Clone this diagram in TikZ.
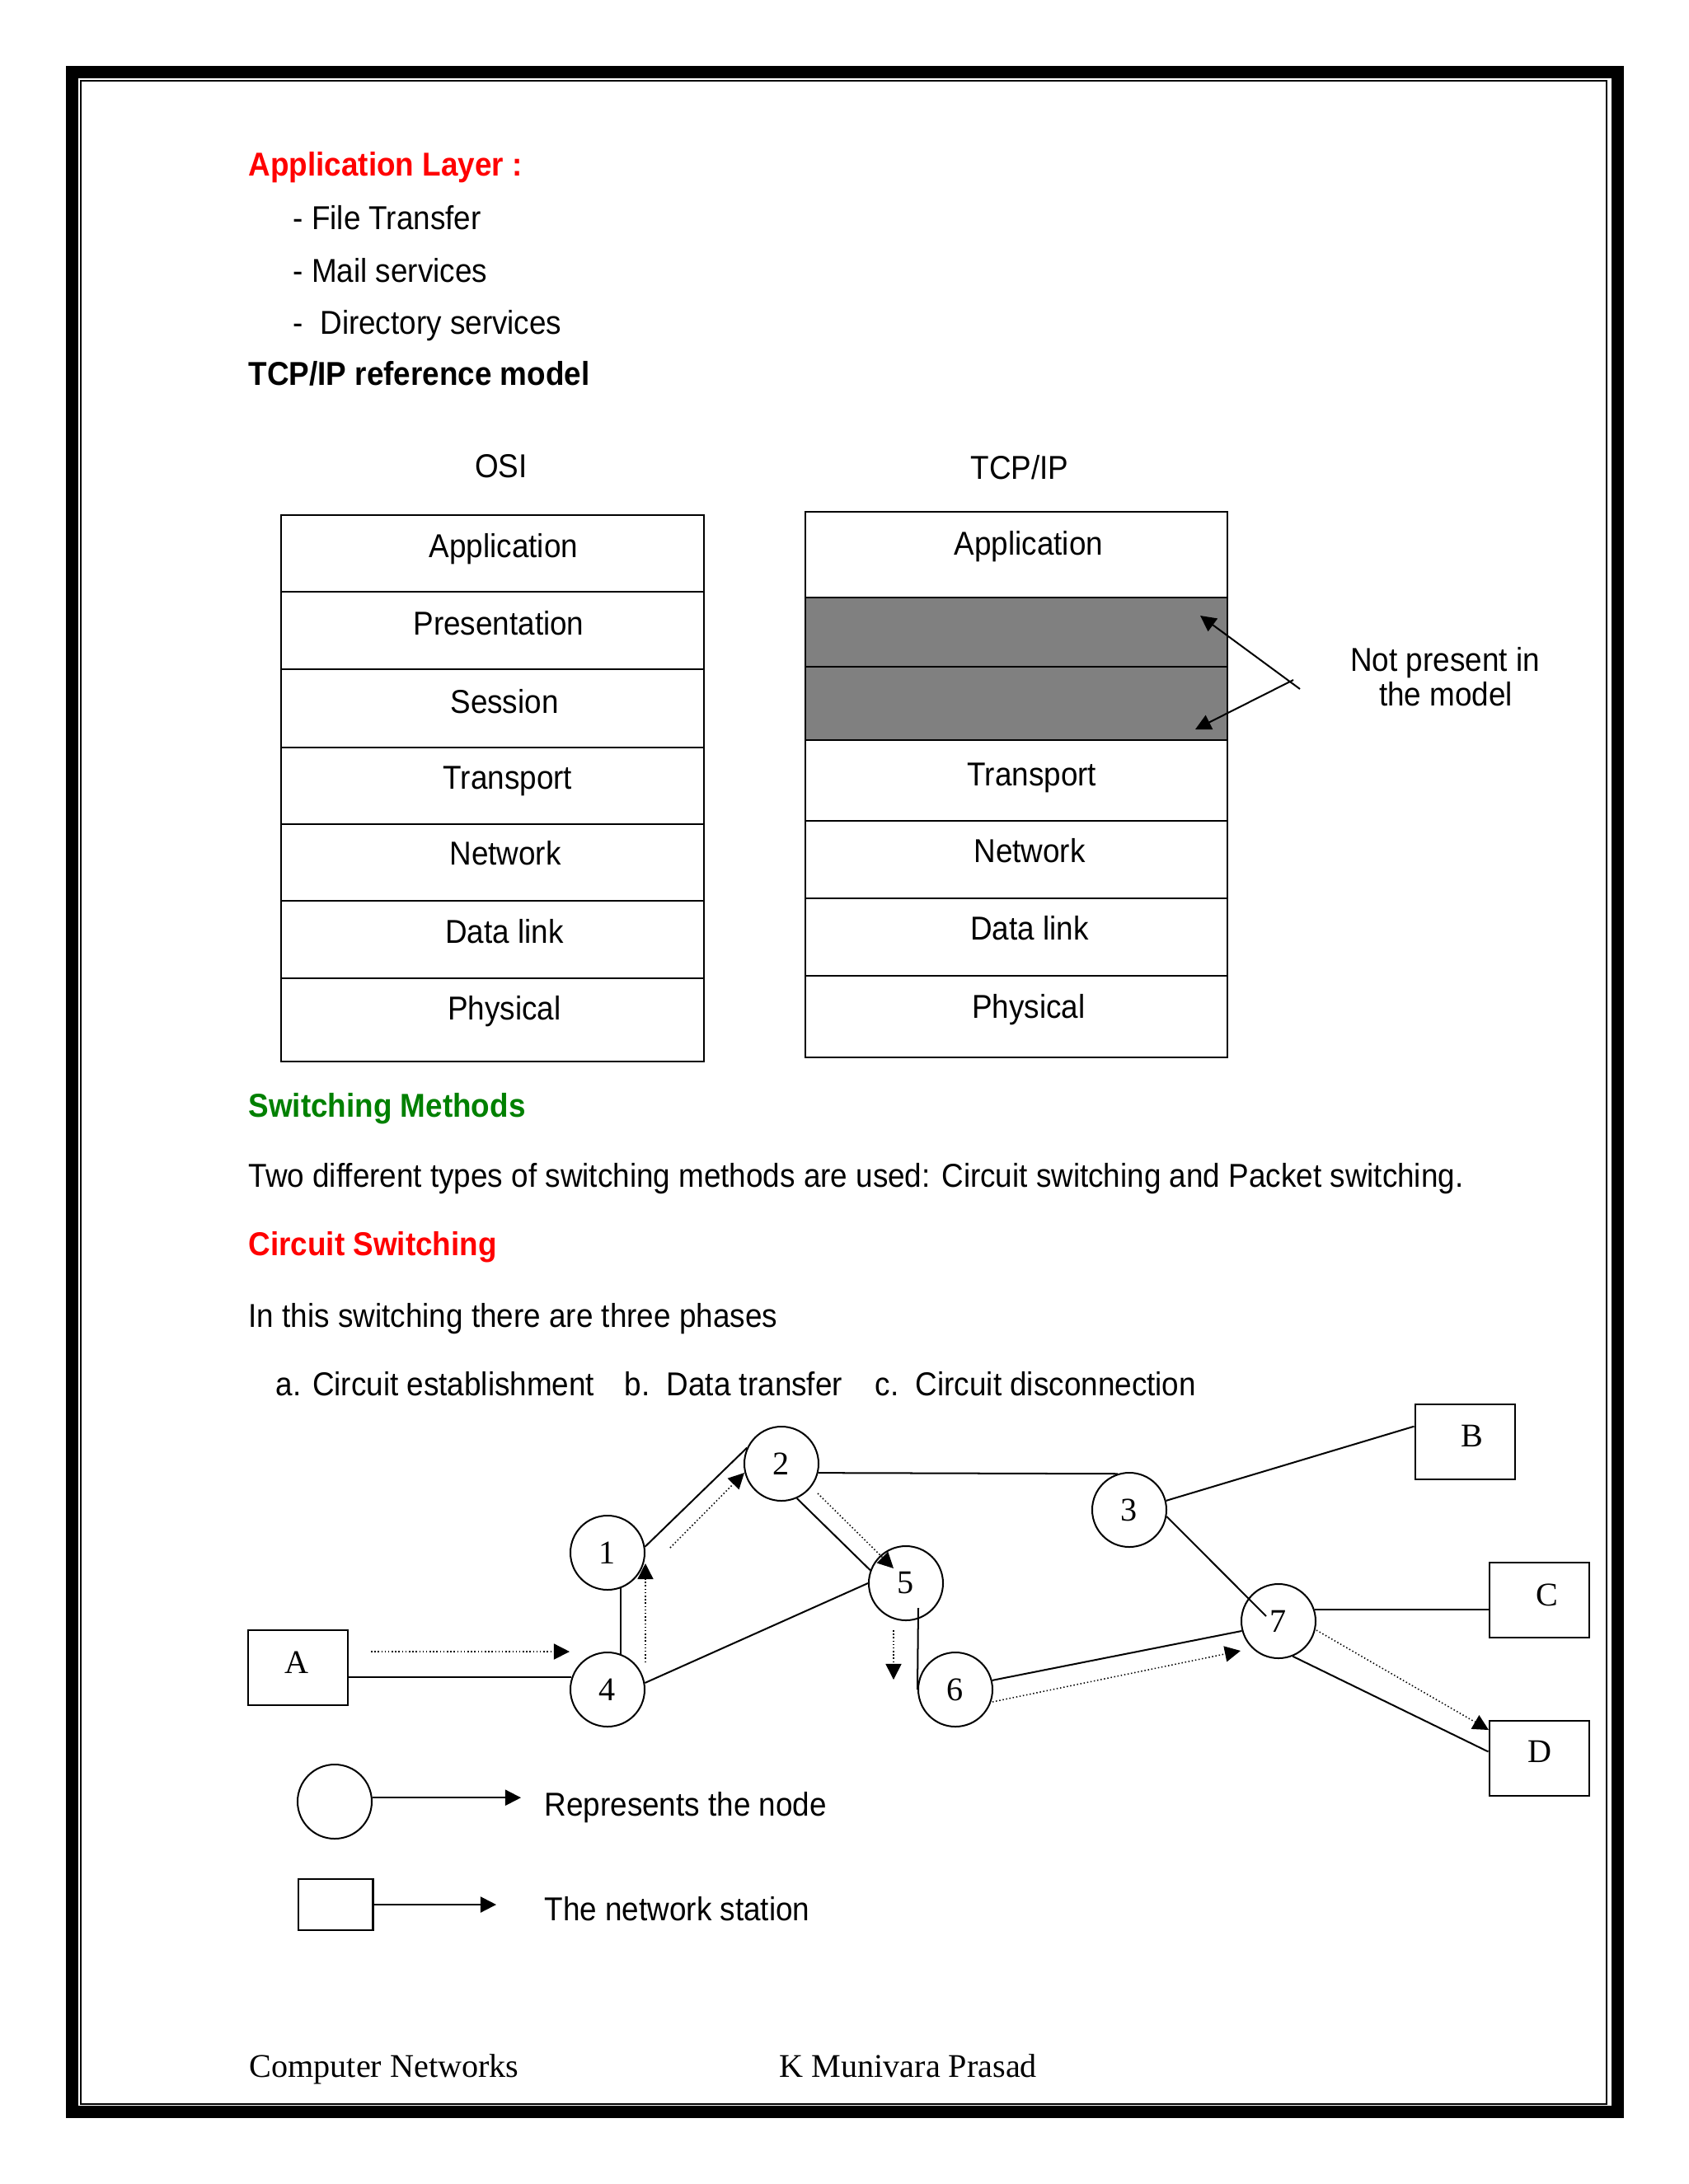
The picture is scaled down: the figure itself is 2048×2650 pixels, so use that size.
\documentclass[tikz,border=0pt]{standalone}
\usepackage{fontspec}
\setmainfont{Liberation Sans}[FakeStretch=0.918]
\newfontfamily\tnr{Liberation Serif}
\usetikzlibrary{arrows.meta,calc}
\definecolor{hdred}{RGB}{255,0,0}
\definecolor{hdgreen}{RGB}{0,128,0}
\definecolor{layergray}{RGB}{128,128,128}
\begin{document}
\begin{tikzpicture}[x=0.29883bp,y=-0.29883bp,
  txt/.style={anchor=base west,inner sep=0pt,font=\fontsize{12bp}{14bp}\selectfont},
  ctxt/.style={anchor=base,inner sep=0pt,font=\fontsize{12bp}{14bp}\selectfont},
  hd/.style={txt,font=\fontsize{12bp}{14bp}\selectfont\bfseries},
  ser/.style={anchor=base west,inner sep=0pt,font=\fontsize{12bp}{14bp}\selectfont\tnr},
  box/.style={line width=0.6bp},
  ln/.style={line width=0.6bp},
  tipstyle/.style={-{Triangle[length=5.7bp,width=5.7bp]}},
  arr/.style={line width=0.6bp,tipstyle},
  dotarr/.style={line width=0.45bp,dash pattern=on 0.45bp off 0.8bp,tipstyle},
  nd/.style={circle,draw,line width=0.6bp,minimum size=26.9bp,inner sep=0pt,font=\fontsize{12bp}{14bp}\selectfont\tnr},
  st/.style={rectangle,draw,line width=0.6bp,minimum width=36.16bp,minimum height=27.19bp,inner sep=0pt},
  stl/.style={inner sep=0pt,font=\fontsize{12bp}{14bp}\selectfont\tnr}]
\useasboundingbox (0,0) rectangle (2048,2650);
\fill[white] (0,0) rectangle (2048,2650);
% page frame
\draw[line width=4.48bp] (87.5,87.5) rectangle (1962,2562.5);
\draw[line width=0.7bp] (98,98) rectangle (1949,2553);
% top texts
\node[hd,text=hdred] (t1) at (301,213) {Application Layer :};
\node[txt] (t2) at (355,278) {- File Transfer};
\node[txt] (t3) at (355,342) {- Mail services};
\node[txt] (t4) at (355,405) {-\ \ Directory services};
\node[hd] (t5) at (301,467) {TCP/IP reference model};
% OSI stack
\node[ctxt] (osi) at (608,579) {OSI};
\draw[box] (341,625) rectangle (854,1288);
\foreach \yy in {718,812,907,1000,1093,1187} \draw[box] (341,\yy) -- (854,\yy);
\node[ctxt] (o1) at (611,676) {Application};
\node[ctxt] (o2) at (605,770) {Presentation};
\node[ctxt] (o3) at (612,865) {Session};
\node[ctxt] (o4) at (616,957) {Transport};
\node[ctxt] (o5) at (613,1049) {Network};
\node[ctxt] (o6) at (612,1144) {Data link};
\node[ctxt] (o7) at (612,1237) {Physical};
% TCP/IP stack
\node[ctxt] (tcp) at (1237,581) {TCP/IP};
\fill[layergray] (977,725) rectangle (1489,898);
\draw[box] (977,621) rectangle (1489,1283);
\foreach \yy in {725,809,898,996,1090,1184} \draw[box] (977,\yy) -- (1489,\yy);
\node[ctxt] (p1) at (1248,673) {Application};
\node[ctxt] (p4) at (1252,953) {Transport};
\node[ctxt] (p5) at (1249,1046) {Network};
\node[ctxt] (p6) at (1249,1140) {Data link};
\node[ctxt] (p7) at (1248,1235) {Physical};
\node[ctxt] (np1t) at (1753,814) {Not present in};
\node[ctxt] (np2t) at (1754,856) {the model};
\coordinate (np1) at (1577,836);
\coordinate (np2) at (1569,825);
\coordinate (g1) at (1456,747);
\coordinate (g2) at (1450,885);
\draw[arr] (np1) -- (g1);
\draw[arr] (np2) -- (g2);
% switching texts
\node[hd,text=hdgreen] (s1) at (301,1355) {Switching Methods};
\node[txt] (s2) at (301,1440) {Two different types of switching methods are used: Circuit switching and Packet switching.};
\node[hd,text=hdred] (s3) at (301,1523) {Circuit Switching};
\node[txt] (s4) at (301,1610) {In this switching there are three phases};
\node[txt] (s5) at (334,1693) {a. Circuit establishment};
\node[txt] (s6) at (757,1693) {b.\ \ Data transfer};
\node[txt] (s7) at (1061,1693) {c.\ \ Circuit disconnection};
% network nodes
\node[nd] (n1) at (737,1884) {1};
\node[nd] (n2) at (948,1776) {2};
\node[nd] (n3) at (1370,1832) {3};
\node[nd] (n4) at (737,2050) {4};
\node[nd] (n5) at (1099,1921) {5};
\node[nd] (n6) at (1159,2050) {6};
\node[nd] (n7) at (1551,1967) {7};
\node[st] (A) at (361.5,2023.5) {};
\node[st] (B) at (1777,1749.5) {};
\node[st] (C) at (1867,1941.5) {};
\node[st] (D) at (1867,2133) {};
\node[stl] (Al) at (360,2017) {A};
\node[stl] (Bl) at (1786,1742) {B};
\node[stl] (Cl) at (1877,1935) {C};
\node[stl] (Dl) at (1868,2125) {D};
% solid links
\draw[ln] (A.east |- n4.161) -- (n4.161);
\draw[ln] (n4.70) -- (n1.-70);
\draw[ln] (n1.9) -- (n2.155);
\draw[ln] (n2.-14) -- (n3.108);
\draw[ln] (n3.14) -- (B.163);
\coordinate (n7in) at (1536,1961);
\draw[ln] (n3.-10) -- (n7in);
\draw[ln] (n2.-66) -- (n5.160);
\draw[ln] (n4.10) -- (n5.180);
\coordinate (n5in) at (1114,1951);
\draw[ln] (n5in) -- (n6.west);
\draw[ln] (n6.14) -- (n7.195);
\draw[ln] (n7.18) -- (n7.18 -| C.west);
\draw[ln] (n7.-68) -- (D.173);
% dotted data path
\coordinate (d1s) at (450,2004); \coordinate (d1e) at (691,2004);
\coordinate (d2s) at (783,2017); \coordinate (d2e) at (783,1897);
\coordinate (d3s) at (813,1878); \coordinate (d3e) at (903,1787);
\coordinate (d4s) at (992,1812); \coordinate (d4e) at (1084,1903);
\coordinate (d5s) at (1084,1978); \coordinate (d5e) at (1084,2038);
\coordinate (d6s) at (1204,2065); \coordinate (d6e) at (1505,2003);
\coordinate (d7s) at (1597,1978); \coordinate (d7e) at (1806,2099);
\draw[dotarr] (d1s) -- (d1e);
\draw[dotarr] (d2s) -- (d2e);
\draw[dotarr] (d3s) -- (d3e);
\draw[dotarr] (d4s) -- (d4e);
\draw[dotarr] (d5s) -- (d5e);
\draw[dotarr] (d6s) -- (d6e);
\draw[dotarr] (d7s) -- (d7e);
% legend
\node[nd] (lgc) at (406,2186) {};
\coordinate (lgce) at (632,2181);
\draw[arr] (lgc.6) -- (lgc.6 -| lgce);
\node[st,minimum width=27.19bp,minimum height=18.53bp] (lgs) at (407,2311) {};
\coordinate (lgse) at (602,2310);
\draw[arr] (lgs.east) -- (lgs.east -| lgse);
\node[txt] (lg1) at (660,2203) {Represents the node};
\node[txt] (lg2) at (660,2330) {The network station};
% footer
\node[ser] (f1) at (302,2520) {Computer Networks};
\node[ser] (f2) at (945,2520) {K Munivara Prasad};
\end{tikzpicture}
\end{document}
